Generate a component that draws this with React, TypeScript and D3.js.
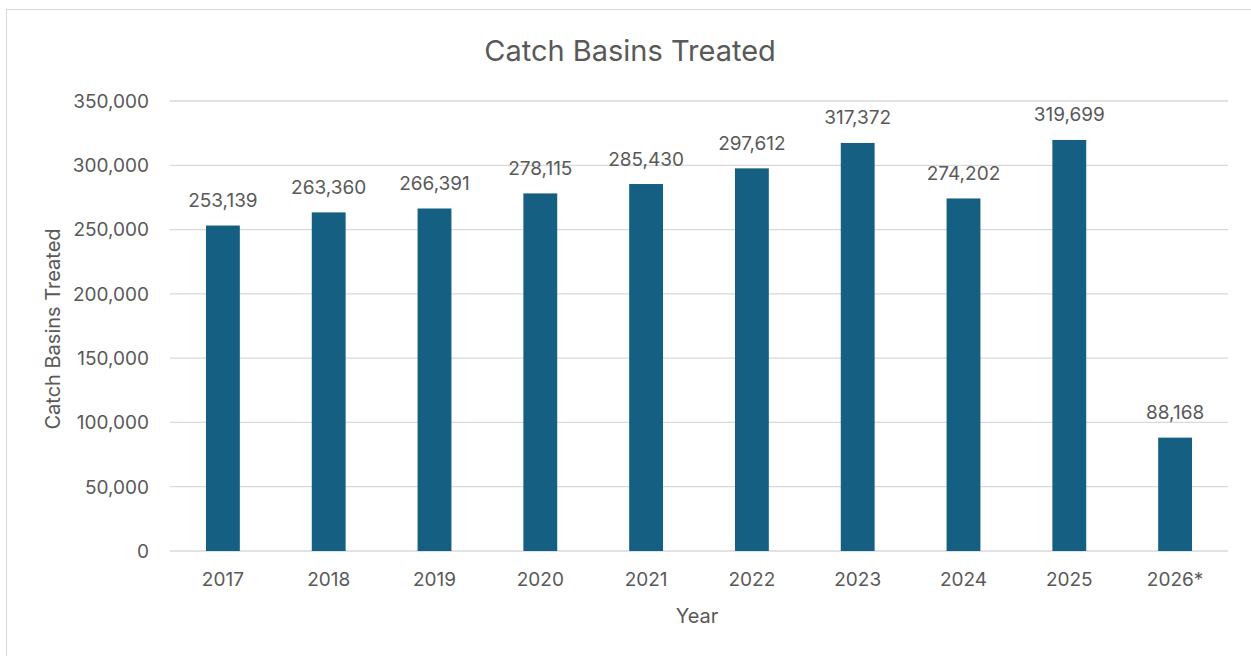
import React from "react";
import * as d3 from "d3";

const categories = ["2017", "2018", "2019", "2020", "2021", "2022", "2023", "2024", "2025", "2026*"];
const values = [253139, 263360, 266391, 278115, 285430, 297612, 317372, 274202, 319699, 88168];
const yTicks = [0, 50000, 100000, 150000, 200000, 250000, 300000, 350000];

const W = 1251;
const H = 656;
const plot = { left: 170, right: 1228, top: 101, bottom: 551 };
const textColor = "#595959";
const font = "Inter, 'Open Sans', sans-serif";

export default function App() {
  const x = d3
    .scaleBand<string>()
    .domain(categories)
    .range([plot.left, plot.right])
    .paddingInner(0.68)
    .paddingOuter(0.34);
  const y = d3.scaleLinear().domain([0, 350000]).range([plot.bottom, plot.top]);
  const fmt = d3.format(",");

  return (
    <svg
      width={W}
      height={H}
      style={{ position: "absolute", left: 0, top: 0, background: "#fff" }}
      fontFamily={font}
    >
      <rect x={6.5} y={9.5} width={W} height={H} fill="#fff" stroke="#d9d9d9" strokeWidth={1} />
      <text x={630} y={61} textAnchor="middle" fontSize={29} fill={textColor}>
        Catch Basins Treated
      </text>
      {yTicks.map((t) => (
        <g key={t}>
          <line x1={plot.left} x2={plot.right} y1={y(t)} y2={y(t)} stroke="#d9d9d9" strokeWidth={1.3} />
          <text x={149} y={y(t)} dy="0.36em" textAnchor="end" fontSize={19} fill={textColor}>
            {fmt(t)}
          </text>
        </g>
      ))}
      {categories.map((c, i) => (
        <g key={c}>
          <rect
            x={x(c)}
            y={y(values[i])}
            width={x.bandwidth()}
            height={y(0) - y(values[i])}
            fill="#156082"
          />
          <text
            x={(x(c) as number) + x.bandwidth() / 2}
            y={y(values[i]) - 18.5}
            textAnchor="middle"
            fontSize={19}
            fill={textColor}
          >
            {fmt(values[i])}
          </text>
          <text
            x={(x(c) as number) + x.bandwidth() / 2}
            y={579.5}
            dy="0.36em"
            textAnchor="middle"
            fontSize={19}
            fill={textColor}
          >
            {c}
          </text>
        </g>
      ))}
      <text x={697} y={616} dy="0.36em" textAnchor="middle" fontSize={20} fill={textColor}>
        Year
      </text>
      <text
        transform={`translate(53, 329) rotate(-90)`}
        dy="0.36em"
        textAnchor="middle"
        fontSize={20}
        fill={textColor}
      >
        Catch Basins Treated
      </text>
    </svg>
  );
}
